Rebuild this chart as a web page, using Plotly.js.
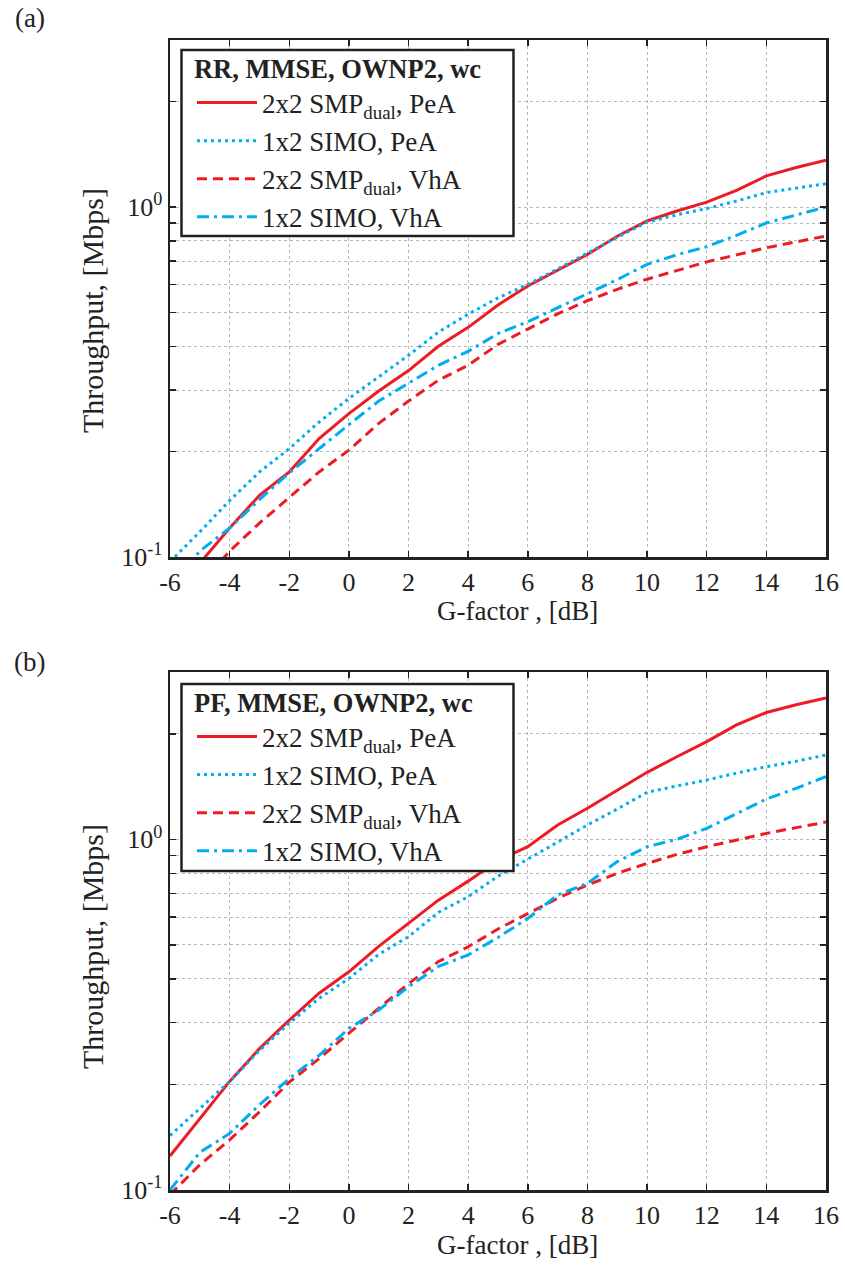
<!DOCTYPE html>
<html><head><meta charset="utf-8">
<script src="https://cdn.plot.ly/plotly-3.0.1.min.js"></script>
<style>html,body{margin:0;padding:0;background:#fff}#chart{width:845px;height:1265px}</style>
</head><body><div id="chart"></div><script>
// ---- data ----
const gFactor = [-6,-5,-4,-3,-2,-1,0,1,2,3,4,5,6,7,8,9,10,11,12,13,14,15,16];
const xTickVals = [-6,-4,-2,0,2,4,6,8,10,12,14,16];
const xTickText = ['-6','-4','-2','0','2','4','6','8','10','12','14','16'];
const yTickVals = [0.1,1];
const yTickText = ['10<sup>-1</sup>','10<sup>0</sup>'];
const yMinorVals = [0.2,0.3,0.4,0.5,0.6,0.7,0.8,0.9,2];
const seriesNames = ['2x2 SMP<sub>dual</sub>, PeA','1x2 SIMO, PeA','2x2 SMP<sub>dual</sub>, VhA','1x2 SIMO, VhA'];
const titleA = 'RR, MMSE, OWNP2, wc';
const titleB = 'PF, MMSE, OWNP2, wc';
const xTitle = 'G-factor , [dB]';
const yTitle = 'Throughput, [Mbps]';

// (a) RR
const rrSmpPeA  = [0.078,0.096,0.121,0.150,0.175,0.218,0.257,0.298,0.341,0.400,0.453,0.525,0.595,0.660,0.732,0.825,0.912,0.974,1.033,1.115,1.227,1.297,1.360];
const rrSimoPeA = [0.097,0.118,0.145,0.175,0.204,0.243,0.284,0.327,0.377,0.439,0.494,0.550,0.601,0.665,0.740,0.820,0.905,0.950,0.990,1.040,1.100,1.130,1.165];
const rrSmpVhA  = [0.065,0.083,0.104,0.125,0.148,0.175,0.202,0.241,0.279,0.320,0.353,0.405,0.448,0.495,0.540,0.582,0.622,0.660,0.697,0.730,0.765,0.795,0.826];
const rrSimoVhA = [0.082,0.104,0.121,0.146,0.174,0.2045,0.239,0.279,0.313,0.353,0.387,0.435,0.470,0.515,0.563,0.620,0.686,0.730,0.770,0.830,0.900,0.950,1.000];
// (b) PF
const pfSmpPeA  = [0.125,0.160,0.204,0.253,0.305,0.364,0.419,0.495,0.576,0.671,0.760,0.870,0.953,1.099,1.226,1.383,1.553,1.720,1.900,2.120,2.300,2.420,2.530];
const pfSimoPeA = [0.143,0.171,0.204,0.250,0.299,0.352,0.401,0.470,0.528,0.619,0.686,0.785,0.877,0.980,1.099,1.220,1.362,1.420,1.476,1.545,1.612,1.670,1.740];
const pfSmpVhA  = [0.097,0.118,0.139,0.167,0.203,0.237,0.280,0.330,0.388,0.448,0.494,0.555,0.615,0.679,0.741,0.800,0.854,0.906,0.953,0.998,1.040,1.080,1.120];
const pfSimoVhA = [0.100,0.128,0.145,0.175,0.208,0.242,0.289,0.326,0.380,0.434,0.468,0.525,0.595,0.694,0.749,0.864,0.953,1.000,1.075,1.186,1.303,1.398,1.510];

// ---- styles ----
const RED = '#ED1C24', BLUE = '#00AEEF', INK = '#222', GRID = '#b8b8b8';
const styles = [
  {color: RED,  dash: 'solid'},
  {color: BLUE, dash: '3px,4px'},
  {color: RED,  dash: '10px,6px'},
  {color: BLUE, dash: '12px,5px,3px,5px'}
];
const FONT = 'Liberation Serif';

function mk(vals, i, xa, ya, leg) {
  return {x: gFactor, y: vals, xaxis: xa, yaxis: ya, type: 'scatter', mode: 'lines',
    name: seriesNames[i], legend: leg,
    line: {color: styles[i].color, dash: styles[i].dash, width: 3}};
}
const traces = [
  mk(rrSmpPeA,0,'x','y','legend'), mk(rrSimoPeA,1,'x','y','legend'),
  mk(rrSmpVhA,2,'x','y','legend'), mk(rrSimoVhA,3,'x','y','legend'),
  mk(pfSmpPeA,0,'x2','y2','legend2'), mk(pfSimoPeA,1,'x2','y2','legend2'),
  mk(pfSmpVhA,2,'x2','y2','legend2'), mk(pfSimoVhA,3,'x2','y2','legend2')
];

function xax(anchor) {
  return {anchor: anchor, domain: [0,1], range: [-6,16], tickvals: xTickVals, ticktext: xTickText,
    ticks: 'inside', ticklen: 6, tickwidth: 1.5, tickcolor: INK, mirror: 'ticks',
    showline: true, linewidth: 2.5, linecolor: INK,
    showgrid: true, gridcolor: GRID, gridwidth: 1, griddash: 'dot', zeroline: false,
    tickfont: {family: FONT, size: 26, color: INK}};
}
function yax(anchor, dom) {
  return {anchor: anchor, domain: dom, type: 'log', range: [-1, Math.log10(3)],
    tickvals: yTickVals, ticktext: yTickText,
    ticks: 'inside', ticklen: 6, tickwidth: 1.5, tickcolor: INK, mirror: 'ticks',
    showline: true, linewidth: 2.5, linecolor: INK,
    showgrid: true, gridcolor: GRID, gridwidth: 1, griddash: 'dot', zeroline: false,
    minor: {tickmode: 'array', tickvals: yMinorVals, ticks: 'inside', ticklen: 6, tickwidth: 1.5, tickcolor: INK,
      showgrid: true, gridcolor: GRID, gridwidth: 1, griddash: 'dot'},
    tickfont: {family: FONT, size: 26, color: INK}};
}
function leg(y, title) {
  return {x: 0.0335, y: y, xanchor: 'left', yanchor: 'top', bgcolor: 'rgba(0,0,0,0)',
    borderwidth: 0, itemwidth: 60,
    font: {family: FONT, size: 27, color: INK},
    title: {text: '<b>' + title + '</b>', font: {family: FONT, size: 26.5, color: INK}}};
}
function box(y0, y1) {
  return {type: 'rect', xref: 'paper', yref: 'paper', x0: 0.01753, x1: 0.5236, y0: y0, y1: y1,
    layer: 'above', fillcolor: '#fff', line: {color: INK, width: 2.5}};
}
function ann(text, x, y, size, angle) {
  return {text: text, xref: 'paper', yref: 'paper', x: x, y: y, xanchor: 'center', yanchor: 'middle',
    showarrow: false, textangle: angle || 0, font: {family: FONT, size: size, color: INK}};
}

const layout = {
  width: 845, height: 1265, paper_bgcolor: '#fff', plot_bgcolor: '#fff',
  margin: {l: 170, r: 19, t: 40, b: 75},
  font: {family: FONT, color: INK},
  xaxis: xax('y'), yaxis: yax('x', [0.5504, 1]),
  xaxis2: xax('y2'), yaxis2: yax('x2', [0, 0.4504]),
  legend: leg(0.9965, titleA),
  legend2: leg(0.4452, titleB),
  shapes: [box(0.82957, 0.99130), box(0.27739, 0.44)],
  annotations: [
    ann('(a)', -0.214, 1.019, 27),
    ann('(b)', -0.214, 0.459, 27),
    ann(xTitle, 0.529, 0.5035, 27),
    ann(xTitle, 0.529, -0.0478, 27),
    ann(yTitle, -0.1189, 0.7643, 30, -90),
    ann(yTitle, -0.1189, 0.2113, 30, -90)
  ]
};
Plotly.newPlot('chart', traces, layout, {displayModeBar: false, staticPlot: true});
</script></body></html>
